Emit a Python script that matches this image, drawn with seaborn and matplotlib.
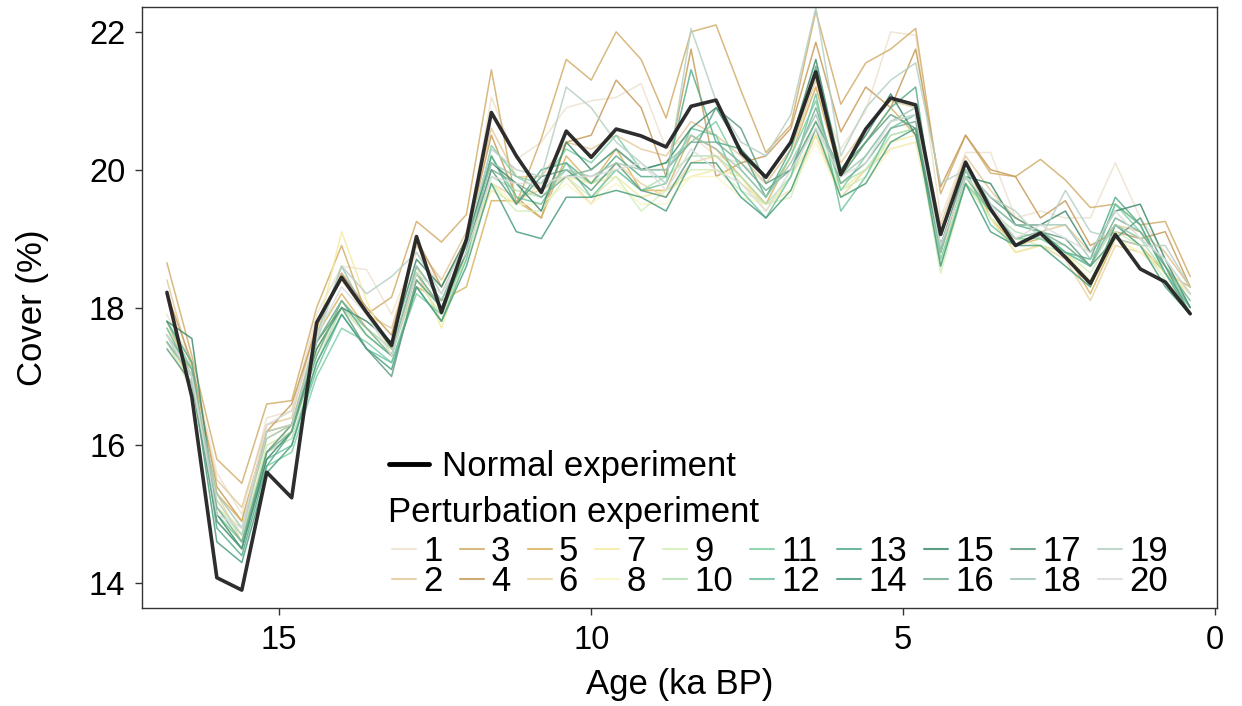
import matplotlib
matplotlib.use("Agg")
import matplotlib.pyplot as plt
import seaborn as sns
import pandas as pd
from matplotlib.lines import Line2D

# ---------------- data ----------------
ages = [16.8, 16.4, 16.0, 15.6, 15.2, 14.8, 14.4, 14.0, 13.6, 13.2,
        12.8, 12.4, 12.0, 11.6, 11.2, 10.8, 10.4, 10.0, 9.6, 9.2,
        8.8, 8.4, 8.0, 7.6, 7.2, 6.8, 6.4, 6.0, 5.6, 5.2,
        4.8, 4.4, 4.0, 3.6, 3.2, 2.8, 2.4, 2.0, 1.6, 1.2,
        0.8, 0.4]

normal = [18.22, 16.70, 14.08, 13.90, 15.61, 15.24, 17.78, 18.44, 17.93, 17.45,
          19.03, 17.93, 18.99, 20.83, 20.20, 19.67, 20.56, 20.18, 20.59, 20.49,
          20.33, 20.92, 21.01, 20.25, 19.89, 20.40, 21.42, 19.93, 20.59, 21.04,
          20.94, 19.06, 20.11, 19.43, 18.90, 19.08, 18.73, 18.35, 19.06, 18.56,
          18.37, 17.91]

run_01 = [17.9, 17.2, 15.6, 15.0, 16.4, 16.5, 17.9, 18.6, 18.55, 17.9, 18.8, 18.3, 19.0, 21.05, 20.15, 20.4, 20.9, 21.0, 21.05, 21.25, 20.3, 20.5, 20.2, 20.1, 19.8, 20.3, 21.2, 20.3, 20.85, 22.0, 21.95, 19.3, 20.25, 20.25, 19.3, 19.4, 19.3, 19.3, 20.1, 19.3, 18.8, 18.3]
run_02 = [18.4, 17.1, 15.5, 15.1, 16.3, 16.4, 17.8, 18.4, 17.9, 17.7, 18.9, 18.4, 19.1, 20.6, 19.9, 19.9, 20.4, 20.3, 20.5, 20.3, 20.2, 20.7, 20.5, 20.2, 19.8, 20.3, 21.3, 20.1, 20.6, 21.0, 20.9, 19.2, 20.2, 19.7, 19.3, 19.1, 19.2, 18.8, 19.2, 19.1, 18.8, 18.3]
run_03 = [18.65, 17.3, 15.8, 15.45, 16.6, 16.65, 18.0, 18.9, 17.9, 18.15, 19.25, 18.95, 19.35, 21.45, 19.5, 20.45, 21.6, 21.3, 22.0, 21.6, 20.75, 22.0, 22.1, 21.15, 20.25, 20.65, 22.3, 20.95, 21.55, 21.75, 22.05, 19.65, 20.5, 19.95, 19.9, 20.15, 19.85, 19.45, 19.5, 19.2, 19.25, 18.45]
run_04 = [18.2, 17.2, 15.4, 14.9, 16.2, 16.6, 17.7, 18.5, 18.0, 17.6, 19.0, 18.3, 19.0, 20.5, 19.6, 19.3, 20.4, 20.5, 21.3, 20.9, 19.9, 21.75, 19.9, 20.1, 20.2, 20.6, 21.85, 20.55, 21.2, 20.9, 21.75, 19.75, 20.5, 20.0, 19.9, 19.3, 19.55, 18.9, 19.1, 19.0, 19.1, 18.3]
run_05 = [17.8, 17.0, 15.3, 14.9, 16.2, 16.3, 17.6, 18.2, 17.7, 17.4, 18.3, 18.1, 18.3, 19.55, 19.55, 19.3, 20.2, 19.8, 20.3, 19.7, 19.7, 20.5, 20.3, 19.9, 19.5, 20.2, 21.2, 19.9, 20.4, 20.9, 20.5, 18.8, 20.1, 19.3, 18.9, 19.0, 18.8, 18.2, 19.0, 18.9, 18.5, 18.3]
run_06 = [17.7, 17.1, 15.3, 14.6, 15.9, 16.3, 17.4, 18.0, 17.6, 17.3, 18.5, 17.8, 18.8, 19.8, 19.6, 19.7, 19.9, 19.5, 20.1, 19.8, 19.6, 20.1, 20.2, 19.8, 19.5, 19.7, 20.5, 19.6, 20.0, 20.3, 20.4, 18.8, 19.8, 19.3, 18.8, 18.9, 18.7, 18.1, 18.9, 18.8, 18.5, 18.2]
run_07 = [17.5, 16.9, 15.1, 14.8, 16.1, 16.3, 17.6, 19.1, 18.1, 17.3, 18.6, 17.7, 18.8, 19.7, 19.5, 19.8, 19.9, 19.8, 19.9, 19.6, 19.7, 19.9, 20.0, 19.9, 19.4, 19.9, 20.5, 19.7, 20.0, 20.4, 20.5, 18.9, 19.9, 19.3, 18.8, 18.9, 18.8, 18.3, 19.0, 18.8, 18.6, 18.2]
run_08 = [17.6, 16.9, 15.2, 14.7, 16.0, 16.2, 17.4, 18.1, 17.7, 17.4, 18.5, 18.0, 18.8, 19.8, 19.5, 19.5, 19.8, 19.5, 19.8, 19.5, 19.5, 19.9, 19.9, 19.6, 19.5, 19.7, 20.4, 19.6, 19.8, 20.3, 20.4, 18.7, 19.8, 19.3, 19.0, 19.0, 18.8, 18.4, 19.0, 18.8, 18.5, 18.2]
run_09 = [17.5, 16.8, 15.0, 14.6, 16.0, 16.2, 17.3, 18.0, 17.6, 17.3, 18.4, 17.9, 18.7, 19.8, 19.4, 19.4, 19.9, 19.6, 19.9, 19.4, 19.7, 20.0, 20.0, 19.7, 19.5, 19.6, 20.6, 19.7, 19.9, 20.5, 20.6, 18.5, 19.8, 19.3, 19.0, 18.9, 18.8, 18.5, 19.1, 18.9, 18.4, 18.0]
run_10 = [17.6, 17.0, 15.1, 14.7, 15.9, 16.1, 17.2, 18.0, 17.7, 17.4, 18.5, 18.0, 18.8, 19.9, 19.7, 19.6, 20.0, 19.8, 20.0, 19.7, 19.9, 20.2, 20.2, 19.9, 19.5, 19.9, 20.7, 19.8, 20.0, 20.5, 20.6, 18.6, 19.9, 19.4, 19.1, 19.0, 18.9, 18.6, 19.2, 19.0, 18.5, 18.0]
run_11 = [17.8, 17.1, 15.0, 14.6, 15.7, 15.9, 17.0, 17.7, 17.5, 17.2, 18.2, 17.9, 18.8, 20.35, 19.9, 19.8, 20.3, 20.1, 20.5, 20.0, 20.1, 20.4, 20.7, 20.0, 19.6, 20.2, 21.0, 19.7, 20.2, 20.7, 20.8, 18.7, 19.8, 19.4, 19.0, 19.0, 18.8, 18.6, 19.5, 19.1, 18.6, 18.0]
run_12 = [17.7, 17.0, 14.9, 14.5, 15.8, 16.0, 17.1, 17.9, 17.4, 17.2, 18.3, 17.8, 18.7, 20.2, 19.6, 19.5, 20.1, 19.6, 20.0, 19.7, 19.8, 20.6, 20.5, 19.7, 19.3, 19.9, 21.1, 19.4, 19.9, 20.6, 20.8, 18.8, 20.0, 19.2, 18.9, 19.1, 18.8, 18.6, 19.5, 19.2, 18.5, 18.0]
run_13 = [17.8, 17.2, 14.8, 14.4, 15.7, 16.2, 17.5, 18.1, 17.6, 17.3, 18.6, 18.1, 18.9, 20.2, 19.5, 20.0, 20.1, 19.8, 20.2, 19.9, 19.9, 21.45, 20.4, 20.3, 19.6, 20.3, 21.5, 19.9, 20.4, 20.9, 21.2, 18.8, 20.1, 19.5, 19.2, 19.1, 18.8, 18.7, 19.6, 19.2, 18.5, 17.9]
run_14 = [17.5, 17.0, 14.6, 14.3, 15.6, 16.0, 17.2, 17.9, 17.4, 17.1, 18.3, 17.8, 18.6, 19.8, 19.1, 19.0, 19.6, 19.6, 19.7, 19.6, 19.4, 20.1, 20.1, 19.6, 19.3, 19.7, 20.6, 19.6, 19.8, 20.4, 20.6, 18.6, 19.8, 19.1, 18.9, 18.9, 18.6, 18.3, 19.2, 18.9, 18.3, 17.9]
run_15 = [17.8, 17.55, 15.0, 14.5, 15.8, 16.2, 17.4, 18.0, 17.8, 17.5, 18.7, 18.3, 19.0, 20.1, 19.8, 19.4, 20.4, 20.0, 20.3, 20.0, 20.1, 20.6, 20.9, 20.3, 19.9, 20.4, 21.6, 20.0, 20.5, 21.1, 20.5, 18.9, 19.9, 19.8, 19.2, 19.2, 19.4, 18.8, 19.4, 19.5, 18.7, 18.0]
run_16 = [17.6, 17.1, 15.1, 14.6, 15.9, 16.2, 17.3, 18.1, 17.7, 17.3, 18.5, 18.0, 18.8, 20.0, 19.8, 19.6, 19.9, 20.0, 20.3, 20.0, 20.0, 20.4, 20.4, 20.1, 19.7, 20.0, 20.9, 19.8, 20.1, 20.6, 20.7, 18.9, 19.9, 19.4, 19.0, 19.1, 18.9, 18.6, 19.3, 19.1, 18.6, 18.1]
run_17 = [17.4, 16.9, 14.9, 14.5, 15.9, 16.3, 17.5, 18.0, 17.4, 17.0, 18.4, 18.0, 18.8, 20.0, 19.5, 19.9, 20.0, 19.7, 20.1, 19.7, 19.6, 20.2, 20.9, 20.6, 19.8, 20.0, 20.7, 20.0, 20.4, 20.8, 20.6, 18.9, 20.0, 19.6, 19.3, 19.1, 19.0, 18.6, 19.0, 19.3, 18.6, 17.9]
run_18 = [17.5, 17.0, 15.3, 14.8, 16.1, 16.3, 17.6, 18.6, 17.9, 17.4, 18.6, 18.1, 18.9, 20.1, 19.9, 19.7, 20.0, 19.9, 20.1, 20.0, 20.0, 20.5, 20.3, 20.0, 19.6, 20.1, 20.8, 19.9, 20.2, 20.7, 20.9, 18.8, 20.0, 19.5, 19.2, 19.2, 19.2, 18.7, 19.2, 19.0, 18.7, 18.2]
run_19 = [17.6, 16.9, 15.2, 14.7, 16.2, 16.3, 17.5, 18.6, 18.2, 18.45, 18.8, 18.2, 19.0, 20.3, 20.0, 19.9, 21.2, 20.9, 20.4, 20.1, 19.8, 22.05, 21.0, 20.4, 20.2, 20.8, 22.35, 20.2, 20.9, 21.3, 21.55, 19.8, 20.0, 19.6, 19.4, 19.0, 19.7, 19.1, 19.0, 18.9, 18.9, 18.3]
run_20 = [17.6, 17.0, 15.0, 14.8, 16.3, 16.5, 17.6, 18.3, 17.9, 17.3, 18.5, 18.2, 18.8, 19.9, 19.8, 19.8, 19.9, 19.9, 20.0, 20.1, 19.7, 20.3, 20.0, 19.8, 19.4, 20.0, 20.6, 19.9, 20.1, 20.7, 20.8, 18.9, 19.9, 19.5, 19.0, 19.2, 19.0, 18.8, 19.4, 19.0, 18.7, 18.2]

runs = [run_01, run_02, run_03, run_04, run_05, run_06, run_07, run_08, run_09, run_10,
        run_11, run_12, run_13, run_14, run_15, run_16, run_17, run_18, run_19, run_20]
run_labels = [str(i) for i in range(1, 21)]
run_colors = ["#ede2cf", "#e3c99a", "#d2ad6a", "#c79d5c", "#d8b462",
              "#e9d59f", "#f3eba3", "#faf6c4", "#d4eebb", "#b4e1b3",
              "#7fcfa7", "#6fc4a1", "#58ad8b", "#4b9e7e", "#3f8b6c",
              "#78ae93", "#5f9c82", "#a2c6b4", "#b6d0c4", "#dcdcdc"]

x_ticks = [0, 5, 10, 15]
y_ticks = [14, 16, 18, 20, 22]

# ---------------- build long table ----------------
frames = []
for lab, vals in zip(run_labels, runs):
    assert len(vals) == len(ages), lab
    frames.append(pd.DataFrame({"age": ages, "cover": vals, "run": lab}))
df = pd.concat(frames, ignore_index=True)
df_norm = pd.DataFrame({"age": ages, "cover": normal})

# ---------------- style ----------------
sns.set_theme(style="ticks")
plt.rcParams["font.family"] = ["Liberation Sans", "DejaVu Sans"]
plt.rcParams["text.color"] = "black"
plt.rcParams["axes.labelcolor"] = "black"
plt.rcParams["xtick.color"] = "black"
plt.rcParams["ytick.color"] = "black"
FS = 23.5     # tick labels
FL = 25       # axis labels and legend

fig = plt.figure(figsize=(12.42, 7.06), dpi=100)
ax = fig.add_axes([0.1143, 0.1388, 0.8656, 0.8512])

palette = dict(zip(run_labels, run_colors))
sns.lineplot(data=df, x="age", y="cover", hue="run", palette=palette,
             hue_order=run_labels, estimator=None, sort=False,
             linewidth=1.1, alpha=0.85, legend=False, ax=ax)
sns.lineplot(data=df_norm, x="age", y="cover", color="#222222",
             estimator=None, sort=False, linewidth=2.6, alpha=0.95, ax=ax)

ax.set_xlim(17.2, -0.03)
ax.set_ylim(13.64, 22.36)
ax.set_xticks(x_ticks)
ax.set_yticks(y_ticks)
ax.set_xticklabels([str(t) for t in x_ticks])
ax.set_yticklabels([str(t) for t in y_ticks])
ax.tick_params(axis="both", direction="out", length=5, width=1, colors="#333333",
               labelsize=FS, labelcolor="black", pad=7)
ax.set_xlabel("Age (ka BP)", fontsize=FL, labelpad=9, color="black")
ax.set_ylabel("Cover (%)", fontsize=FL, labelpad=29, color="black")
for s in ax.spines.values():
    s.set_color("#333333")
    s.set_linewidth(1.0)
    s.set_visible(True)

# ---------------- legends ----------------
h_norm = [Line2D([], [], color="black", linewidth=3.5)]
leg1 = fig.legend(h_norm, ["Normal experiment"], loc="upper left",
                  bbox_to_anchor=(0.3136, 0.3623), frameon=False, fontsize=FL,
                  handlelength=1.15, handletextpad=0.35, borderpad=0, borderaxespad=0)

fig.text(0.3124, 0.2734, "Perturbation experiment", fontsize=FL,
         ha="left", va="center", color="black")

h_runs = [Line2D([], [], color=c, linewidth=1.5, alpha=0.85) for c in run_colors]
leg2 = fig.legend(h_runs, run_labels, loc="upper left", ncol=10,
                  bbox_to_anchor=(0.316, 0.2425), frameon=False, fontsize=FL,
                  handlelength=0.69, handletextpad=0.2,
                  columnspacing=0.5, labelspacing=-0.09, borderpad=0,
                  borderaxespad=0)

fig.savefig("out.png", dpi=100)
